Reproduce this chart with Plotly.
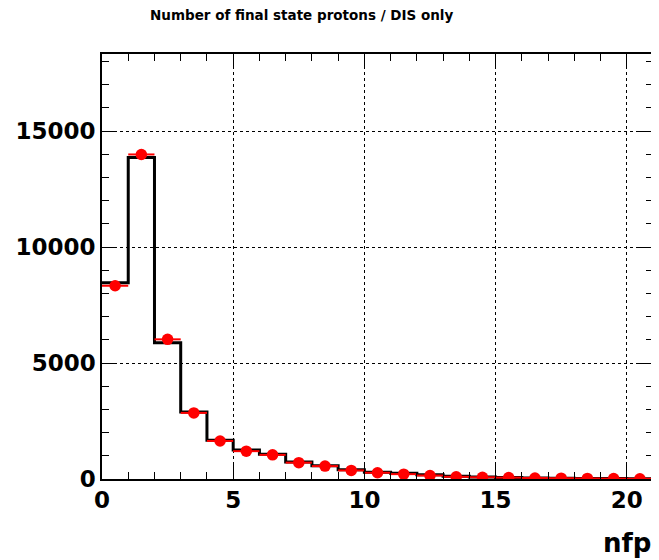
import plotly.graph_objects as go

# bin edges / centres for nfp (0..21, width 1)
bin_lo = list(range(0, 21))
# black histogram (reference) contents
hist_vals = [8460, 13860, 5870, 2890, 1670, 1250, 1070, 730, 575, 395, 295,
             245, 180, 120, 85, 60, 45, 35, 25, 18, 12]
# red points (data) contents
pt_vals = [8330, 13990, 6020, 2850, 1640, 1200, 1040, 705, 555, 370, 270,
           210, 150, 95, 75, 60, 45, 35, 25, 18, 12]

title_text = "Number of final state protons / DIS only"
x_title = "nfp"
x_ticks = [0, 5, 10, 15, 20]
y_ticks = [0, 5000, 10000, 15000]

FONT = "DejaVu Sans"
OFF = 8  # default page body margin

edges = bin_lo + [bin_lo[-1] + 1]
step_y = hist_vals + [hist_vals[-1]]
centers = [b + 0.5 for b in bin_lo]

fig = go.Figure()
fig.add_trace(go.Scatter(
    x=edges, y=step_y, mode="lines", line=dict(shape="hv", color="black", width=3),
    showlegend=False, hoverinfo="skip"))
fig.add_trace(go.Scatter(
    x=centers, y=pt_vals, mode="markers",
    marker=dict(color="red", size=11.5, symbol="circle"),
    error_x=dict(type="constant", value=0.5, color="red", thickness=2, width=0),
    showlegend=False))

axis_common = dict(
    showline=True, linecolor="black", linewidth=1.5, mirror="allticks",
    ticks="inside", tickcolor="black", tickwidth=1.2, ticklen=14,
    showgrid=True, gridcolor="black", griddash="dot", gridwidth=1,
    zeroline=False, automargin=False,
    tickfont=dict(family=FONT, size=23, color="black", weight="bold"),
)

fig.update_xaxes(range=[0, 21], tickvals=x_ticks, ticktext=[str(v) for v in x_ticks],
                 minor=dict(dtick=1, tick0=0, ticks="inside", ticklen=7, tickcolor="black",
                            showgrid=False),
                 **axis_common)
fig.update_yaxes(range=[0, 18320], tickvals=y_ticks, ticktext=[str(v) for v in y_ticks],
                 minor=dict(dtick=1000, tick0=0, ticks="inside", ticklen=7, tickcolor="black",
                            showgrid=False),
                 **axis_common)

W, H = 659 - OFF, 560 - OFF
fig.update_layout(
    width=W, height=H,
    margin=dict(l=102 - OFF, r=6, t=54 - OFF, b=81),
    plot_bgcolor="white", paper_bgcolor="white",
    title=dict(text=title_text, x=(150 - OFF) / W, xanchor="left", y=1 - (15 - OFF) / H,
               yanchor="middle", automargin=False,
               font=dict(family=FONT, size=13.5, color="black", weight="bold")),
    annotations=[dict(text=x_title, xref="paper", yref="paper", x=1, y=-(543 - 479) / 425,
                      xanchor="right", yanchor="middle", showarrow=False,
                      font=dict(family=FONT, size=26, color="black", weight="bold"))],
)

fig.write_html("out.html")
